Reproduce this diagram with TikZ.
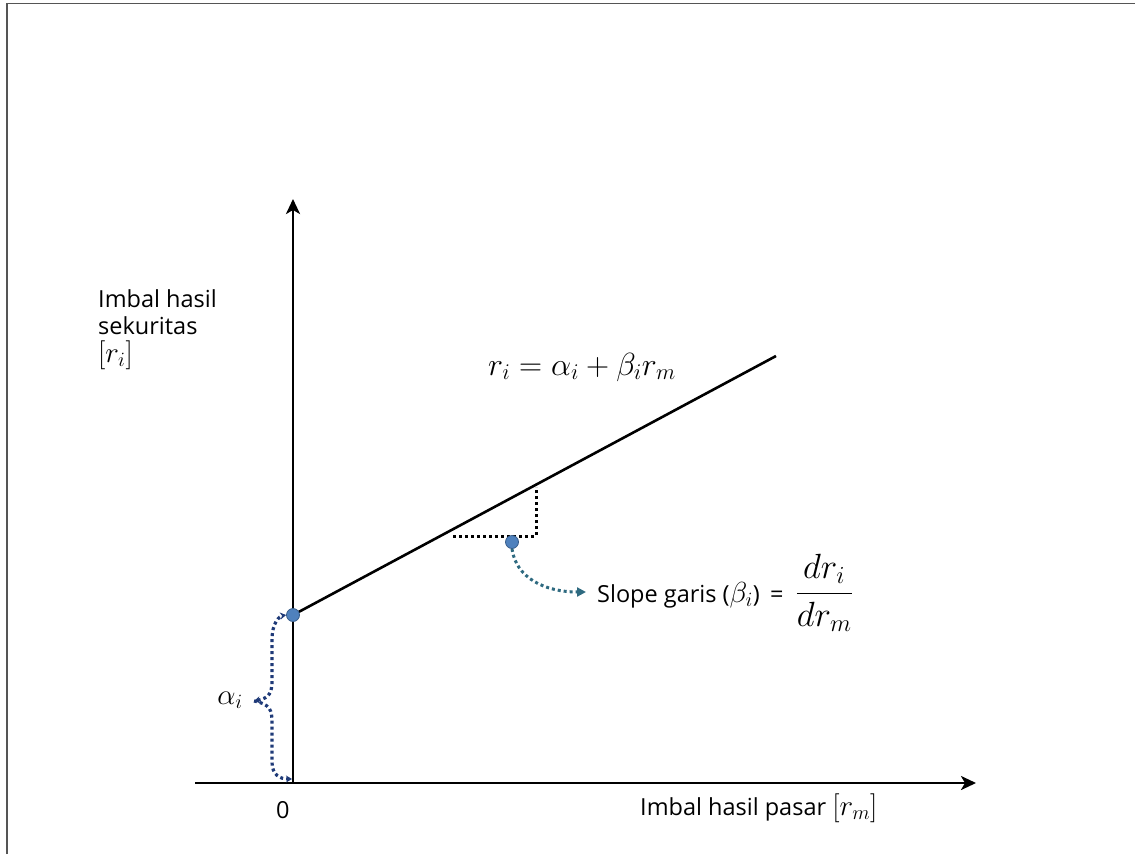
\RequirePackage{fix-cm}
\documentclass[tikz,border=0pt]{standalone}
\usepackage{amsmath}
\usepackage{fontspec}
\setmainfont{Open Sans}
\usetikzlibrary{arrows.meta}
\definecolor{dotblue}{HTML}{4F81BD}
\definecolor{dotedge}{HTML}{385D8A}
\definecolor{arrteal}{HTML}{2E6A80}
\definecolor{bracenavy}{HTML}{1F3A78}
\definecolor{framegray}{HTML}{555555}
\newcommand{\mth}[1]{{\fontsize{29}{27.5}\selectfont$#1$}}
\begin{document}
\begin{tikzpicture}[x=1pt,y=-1pt,
  font=\fontsize{23.5}{27.5}\selectfont,
  axisline/.style={line width=2.6pt,-{Stealth[length=15pt,width=14pt,inset=4pt]}},
  dotline/.style={line width=3pt,dash pattern=on 3pt off 3pt},
  bluedot/.style={circle,fill=dotblue,draw=dotedge,line width=0.8pt,inner sep=0pt,minimum size=13pt},
  bracestyle/.style={bracenavy,line width=3.2pt,dash pattern=on 3pt off 3pt},
  lbl/.style={inner sep=0pt,anchor=base west,align=left}]
\useasboundingbox (0,0) rectangle (1135,854);
\draw[framegray,line width=1.6pt] (7,854) -- (7,3.5) -- (1135,3.5);
% axes
\coordinate (O) at (293,783);
\coordinate (ytip) at (293,199);
\coordinate (xs) at (195,783);
\coordinate (xtip) at (976,783);
\draw[axisline] (O) -- (ytip);
\draw[axisline] (xs) -- (xtip);
% regression line
\coordinate (A) at (293,615);
\coordinate (B) at (776,356);
\draw[line width=2.6pt] (A) -- (B);
% slope triangle
\coordinate (T1) at (453,536);
\coordinate (T2) at (536,536);
\coordinate (T3) at (536,487);
\draw[dotline] (T1) -- (T2) -- (T3);
% dots
\node[bluedot] (d1) at (A) {};
\node[bluedot] (d2) at (512,542) {};
% curved arrow
\coordinate (s1) at (586,592);
\draw[arrteal,dotline,-{Triangle[length=9pt,width=9pt]}] (d2.south) .. controls (516,578) and (545,592) .. (s1);
% brace
\coordinate (bt) at (254,701);
\coordinate (bb) at (292,779);
\draw[bracestyle,{Stealth[length=6pt,width=7pt]}-{Stealth[length=6pt,width=7pt]}] (bt) .. controls (270,698) and (272,692) .. (272,680) -- (272,640) .. controls (272,622) and (280,616) .. (d1.west);
\draw[bracestyle,-{Stealth[length=6pt,width=7pt]}] (bt) .. controls (270,704) and (272,710) .. (272,722) -- (272,762) .. controls (272,775) and (280,779) .. (bb);
% labels
\node[lbl] (ylab) at (98,362) {Imbal hasil\\sekuritas\\\mth{[r_i]}};
\node[lbl] (xlab) at (640,815) {Imbal hasil pasar \mth{[r_m]}};
\node[lbl] (zero) at (276,818) {0};
\node[inner sep=0pt,font=\fontsize{29}{30}\selectfont] (alab) at (230,700) {$\alpha_i$};
\node[lbl,font=\fontsize{32}{30}\selectfont] (eq) at (488,375) {$r_i=\alpha_i+\beta_i r_m$};
\node[lbl] (slope) at (597,602) {Slope garis (\mth{\beta_i})\hspace{4pt} =\hspace{6pt} {\fontsize{35}{30}\selectfont$\dfrac{dr_i}{dr_m}$}};
\end{tikzpicture}
\end{document}
